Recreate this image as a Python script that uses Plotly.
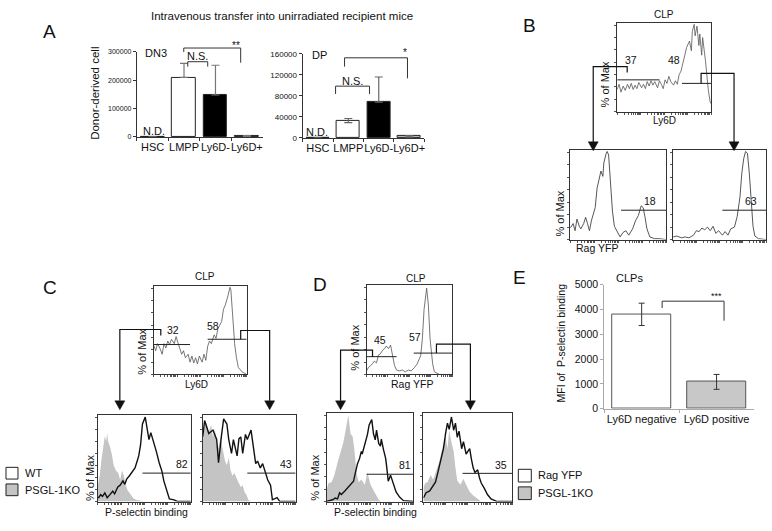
import math
import plotly.graph_objects as go

W, H = 772, 531
def px(x): return x / W
def py(y): return 1 - y / H

FONT = "Liberation Sans, Arial, Helvetica, sans-serif"

# ---------------- Panel A : donor-derived cells ----------------
a_categories = ["HSC", "LMPP", "Ly6D-", "Ly6D+"]
dn3_values = [0, 210000, 148000, 3000]
dn3_err_plus = [0, 50000, 105000, 1500]
dn3_err_minus = [0, 0, 0, 1500]
dn3_ticks = [0, 100000, 200000, 300000]
dp_values = [0, 33000, 68000, 3000]
dp_err_plus = [0, 4000, 48000, 1500]
dp_err_minus = [0, 4000, 0, 1500]
dp_ticks = [0, 40000, 80000, 120000, 160000]
a_bar_colors = ["white", "white", "black", "#c8c8c8"]

# ---------------- Panel E : MFI of P-selectin binding ----------------
e_categories = ["Ly6D negative", "Ly6D positive"]
e_values = [3800, 1080]
e_err = [450, 300]
e_ticks = [0, 1000, 2000, 3000, 4000, 5000]
e_bar_colors = ["white", "#c8c8c8"]

# ---------------- Histograms (x: channel 0-100, y: % of Max) ----------------
b_top_x = [0, 2, 4, 6.4, 8.5, 11, 13, 15, 17, 19, 21, 23, 26, 28, 30, 32, 34, 36, 38, 40, 43, 45, 47, 49, 51, 53, 55, 57, 60, 62, 64, 66, 68, 70, 72, 74, 77, 79, 80, 82, 83, 85, 87, 88, 90, 91, 94, 95, 97, 99, 100]
b_top_y = [25, 31, 22, 29, 24, 31, 26, 32, 25, 30, 26, 33, 27, 31, 26, 34, 29, 35, 30, 34, 27, 35, 31, 26, 36, 32, 40, 34, 30, 35, 31, 42, 46, 55, 64, 73, 80, 69, 91, 99, 86, 97, 75, 88, 64, 84, 58, 44, 25, 11, 9]
b_top_gates = [(0, 45, 36), (69, 100, 32)]
b_top_pct = ["37", "48"]

b_left_x = [0, 3, 5, 7, 9.4, 11, 14, 16, 18, 20, 22, 24, 26, 28, 30, 32, 34, 35, 37.5, 38.5, 40, 42, 44, 46, 49, 52, 55, 58, 61, 65, 68, 71, 74, 76, 78, 80, 83, 88, 93, 100]
b_left_y = [13, 18, 10, 23, 15, 12, 18, 25, 18, 10, 21, 29, 36, 58, 66, 77, 71, 86, 97, 99, 95, 64, 32, 15, 8, 3, 8, 10, 5, 12, 21, 27, 38, 36, 25, 12, 3, 1, 1, 0]
b_left_gate = (53, 100, 33)
b_right_x = [0, 4, 9, 13, 17, 22, 25, 28, 31, 34, 37, 40, 43, 46, 49, 53, 56, 59, 62, 66, 69, 72, 74, 76, 78, 80, 82, 84, 86, 88, 92, 100]
b_right_y = [3, 4, 2, 3, 2, 5, 10, 9, 13, 11, 14, 10, 15, 7, 10, 5, 9, 5, 12, 14, 26, 48, 75, 91, 99, 97, 75, 42, 15, 4, 1, 0]
b_right_gate = (53, 100, 33)
b_bottom_pct = ["18", "63"]

c_top_x = [0, 2, 4, 6.5, 9, 11, 13, 15, 17, 19, 22, 24, 26, 28, 30, 32, 34, 37, 39, 41, 43, 45, 47, 49, 52, 54, 56, 58, 60, 62, 65, 67, 69, 71, 73, 75, 77, 80, 82, 83, 85, 87, 89, 91, 95, 100]
c_top_y = [33, 27, 35, 30, 23, 35, 30, 38, 34, 40, 35, 43, 36, 30, 23, 27, 19, 23, 14, 21, 13, 19, 12, 21, 14, 23, 16, 32, 38, 35, 45, 41, 52, 56, 60, 74, 79, 90, 99, 96, 63, 35, 19, 8, 3, 0]
c_top_gates = [(0, 39, 34), (58, 100, 40)]
c_top_pct = ["32", "58"]

c_left_ko_x = [0, 2, 4, 6.5, 7.5, 9, 10, 11, 13, 15, 17, 19.4, 22, 24, 26, 28, 30, 32, 34, 38, 41, 45, 50, 100]
c_left_ko_y = [19, 30, 50, 68, 76, 70, 80, 70, 64, 55, 42, 36, 33, 25, 36, 30, 19, 13, 10, 4, 2, 1, 0, 0]
c_left_wt_x = [0, 1, 3, 5, 7.5, 10, 13, 16, 18, 21.5, 24, 27, 29, 31, 34, 37, 40, 42, 44, 46, 48, 51, 53, 55, 57, 59, 61, 63, 66, 69, 71, 74, 77, 82, 86, 100]
c_left_wt_y = [5, 4.5, 8, 6, 10, 4.5, 8, 12, 9, 17, 19, 24, 20, 26, 30, 35, 39, 46, 53, 66, 90, 98, 87, 72, 80, 73, 64, 58, 45, 35, 24, 12, 3, 2, 0, 0]
c_left_gate = (48, 100, 33)
c_right_ko_x = [0, 2, 4, 6.5, 9, 11, 13, 15, 17, 19, 22, 24, 26, 28, 30, 32, 34, 37, 39, 41, 43, 45, 47, 49, 52, 100]
c_right_ko_y = [70, 87, 92, 81, 89, 75, 84, 70, 62, 75, 58, 47, 42, 51, 36, 30, 33, 25, 21, 17, 19, 11, 8, 2, 0, 0]
c_right_wt_x = [0, 2, 6.5, 11, 15, 17, 20, 22.5, 26, 28, 31, 33, 37, 39, 41, 43, 46, 48, 52, 54, 57, 59, 62, 64.5, 68, 70, 73, 75, 80, 83, 100]
c_right_wt_y = [75, 94, 79, 83, 72, 45, 75, 96, 90, 72, 56, 72, 53, 73, 75, 56, 78, 72, 83, 66, 44, 47, 39, 44, 30, 25, 19, 2, 4.5, 0, 0]
c_right_gate = (48, 100, 33)
c_bottom_pct = ["82", "43"]

d_top_x = [0, 2.3, 4.7, 7, 9, 11.6, 14, 16, 18.6, 21, 23, 25.6, 28, 30, 32.6, 35, 38, 42, 45, 49, 52, 56, 59, 63, 65, 67, 70, 72, 74, 77, 79, 85, 100]
d_top_y = [4, 8, 10, 12, 15, 13, 22, 23, 27, 29, 32, 29, 33, 21, 10, 5, 4, 5, 3, 5, 4, 8, 12, 21, 40, 73, 97, 78, 40, 12, 3, 0, 0]
d_top_gates = [(0, 35, 20), (55, 100, 24)]
d_top_pct = ["45", "57"]

d_left_ko_x = [0, 2.3, 5.7, 9, 12.6, 15, 17, 19.5, 21, 23, 25, 27.6, 30, 32, 34.5, 37, 40, 44, 47, 50.6, 53, 56, 60, 63, 100]
d_left_ko_y = [13, 21, 22, 30, 44, 52, 59, 68, 76, 88, 98, 77, 74, 59, 32, 22, 25, 19, 33, 19, 14, 9, 2, 0, 0]
d_left_rag_x = [0, 7, 10, 12.6, 15, 17, 21, 24, 27.6, 31, 33, 35.6, 38, 40, 41, 45, 47, 49, 52, 54, 56, 57.5, 60, 62, 63, 65.5, 68, 69, 71, 73.6, 77, 80, 84, 88.5, 100]
d_left_rag_y = [0, 2, 4, 3, 10, 8, 12, 15, 19, 23, 32, 43, 49, 57, 54, 67, 76, 87, 93, 77, 70, 81, 66, 63, 71, 59, 49, 41, 23, 30, 19, 11, 5, 1, 0]
d_left_gate = (46, 100, 31)
d_right_ko_x = [0, 2, 4.5, 8, 11, 14.6, 18, 20, 22.5, 25, 27, 29, 31.5, 34, 36, 38, 41.6, 45, 48, 52, 56, 61, 65, 100]
d_right_ko_y = [16, 21, 22, 30, 25, 35, 46, 55, 66, 74, 60, 81, 67, 57, 38, 24, 19, 26, 19, 11, 7, 3, 0, 0]
d_right_rag_x = [0, 3, 7, 10, 13.5, 16, 19, 22.5, 25, 27, 29, 31.5, 34, 36, 38, 40, 43, 45, 48, 52, 54, 56, 58, 61, 63, 65, 68.5, 72, 76, 83, 100]
d_right_rag_y = [4, 10, 12, 16, 22, 32, 44, 60, 78, 89, 82, 96, 81, 89, 73, 80, 60, 68, 54, 60, 48, 38, 33, 36, 27, 21, 15, 8, 3, 0, 0]
d_right_gate = (44, 100, 32)
d_bottom_pct = ["81", "35"]

# ---------------------------------------------------------------------------
fig = go.Figure()
layout = dict(width=W, height=H, margin=dict(l=0, r=0, t=0, b=0),
              paper_bgcolor="white", plot_bgcolor="white", showlegend=False,
              font=dict(family=FONT, color="#111"), bargap=0)
shapes, annotations = [], []

def ann(text, x, y, size, xanchor="center", yanchor="middle", angle=0):
    annotations.append(dict(text=text, x=px(x), y=py(y), xref="paper", yref="paper",
                            showarrow=False, xanchor=xanchor, yanchor=yanchor,
                            textangle=angle, font=dict(size=size, family=FONT, color="#111")))

log_ticks = [d * 25 + 25 * math.log10(k) for d in range(4) for k in range(1, 10)] + [100]

def hist_axes(n, x0, x1, y0, y1):
    layout[f"xaxis{n}"] = dict(domain=[px(x0), px(x1)], range=[0, 100], anchor=f"y{n}",
                               showline=True, mirror=True, linecolor="#333", linewidth=1,
                               ticks="outside", ticklen=2, tickwidth=0.6, tickcolor="#555",
                               tickvals=log_ticks, showticklabels=False, showgrid=False, zeroline=False,
                               fixedrange=True)
    layout[f"yaxis{n}"] = dict(domain=[py(y1), py(y0)], range=[0, 101], anchor=f"x{n}",
                               showline=True, mirror=True, linecolor="#333", linewidth=1,
                               ticks="outside", ticklen=2, tickwidth=0.6, tickcolor="#555",
                               tickvals=[0, 14, 28, 42, 56, 70, 84, 98], showticklabels=False,
                               showgrid=False, zeroline=False, fixedrange=True)

def line_trace(n, xs, ys, color, width):
    fig.add_trace(go.Scatter(x=xs, y=ys, mode="lines", line=dict(color=color, width=width),
                             xaxis=f"x{n}", yaxis=f"y{n}", hoverinfo="skip"))

def fill_trace(n, xs, ys):
    fig.add_trace(go.Scatter(x=xs, y=ys, mode="lines", line=dict(color="#c4c4c4", width=0),
                             fill="tozeroy", fillcolor="#c4c4c4",
                             xaxis=f"x{n}", yaxis=f"y{n}", hoverinfo="skip"))

def gate(n, g):
    shapes.append(dict(type="line", xref=f"x{n}", yref=f"y{n}", x0=g[0], x1=g[1], y0=g[2], y1=g[2],
                       line=dict(color="#222", width=1)))

def connector(points, tip_y):
    path = "M " + " L ".join(f"{px(x)},{py(y)}" for x, y in points)
    shapes.append(dict(type="path", xref="paper", yref="paper", path=path,
                       line=dict(color="#111", width=1.2)))
    x = points[-1][0]
    tri = f"M {px(x-5)},{py(tip_y-9)} L {px(x+5)},{py(tip_y-9)} L {px(x)},{py(tip_y)} Z"
    shapes.append(dict(type="path", xref="paper", yref="paper", path=tri,
                       fillcolor="#111", line=dict(color="#111", width=0.5)))

# ---------------- Panel A bars ----------------
def bar_axes(n, x0, x1, y0, y1, yr, ticks, tsize, lcolor, csize):
    layout[f"xaxis{n}" if n > 1 else "xaxis"] = dict(
        domain=[px(x0), px(x1)], anchor="y" if n == 1 else f"y{n}", type="category",
        showline=True, linecolor=lcolor, linewidth=1, ticks="outside", tickson="boundaries",
        ticklen=3, tickcolor=lcolor, tickangle=0,
        tickfont=dict(size=csize, family=FONT, color="#111"),
        showgrid=False, zeroline=False, fixedrange=True)
    layout[f"yaxis{n}" if n > 1 else "yaxis"] = dict(
        domain=[py(y1), py(y0)], anchor="x" if n == 1 else f"x{n}", range=yr,
        tickvals=ticks, ticktext=[str(t) for t in ticks], showline=True, linecolor=lcolor,
        linewidth=1, ticks="outside", ticklen=3, tickcolor=lcolor,
        tickfont=dict(size=tsize, family=FONT, color="#111"),
        showgrid=False, zeroline=False, fixedrange=True)

bar_axes(1, 137, 263, 47, 134, [0, 300000], dn3_ticks, 7, "#333", 11)
bar_axes(2, 303, 425, 49, 135, [0, 160000], dp_ticks, 8, "#333", 11)

fig.add_trace(go.Bar(x=a_categories, y=dn3_values, width=0.75, xaxis="x", yaxis="y",
                     marker=dict(color=a_bar_colors, line=dict(color="#222", width=1)),
                     error_y=dict(type="data", symmetric=False, array=dn3_err_plus,
                                  arrayminus=dn3_err_minus, color="#777", thickness=1.2, width=4),
                     hoverinfo="skip"))
fig.add_trace(go.Bar(x=a_categories, y=dp_values, width=0.75, xaxis="x2", yaxis="y2",
                     marker=dict(color=a_bar_colors, line=dict(color="#222", width=1)),
                     error_y=dict(type="data", symmetric=False, array=dp_err_plus,
                                  arrayminus=dp_err_minus, color="#666", thickness=1.2, width=4),
                     hoverinfo="skip"))

ann("Intravenous transfer into unirradiated recipient mice", 282, 10, 11.5)
ann("A", 50, 26, 19)
ann("Donor-derived cell", 95, 89, 11.5, angle=-90)
ann("DN3", 143, 48, 11, xanchor="left")
ann("N.S.", 198, 51, 11)
ann("**", 236, 40, 10)
ann("N.D.", 154, 128, 11)
ann("DP", 310, 50, 11, xanchor="left")
ann("N.S.", 353, 77, 11)
ann("*", 406, 48, 10)
ann("N.D.", 317, 129, 11)
for pts in ([(184, 47), (184, 43), (241, 43), (241, 58)],
            [(188, 62), (188, 57), (208, 57), (208, 62)],
            [(345, 62), (345, 53), (408, 53), (408, 74)],
            [(336, 90), (336, 82), (370, 82), (370, 90)],
            [(663, 309), (663, 302), (725, 302), (725, 322)]):
    shapes.append(dict(type="path", xref="paper", yref="paper",
                       path="M " + " L ".join(f"{px(x)},{py(y)}" for x, y in pts),
                       line=dict(color="#333", width=1)))

# ---------------- Panel B ----------------
hist_axes(3, 618, 712, 17, 108)
line_trace(3, b_top_x, b_top_y, "#555", 0.8)
for g in b_top_gates:
    gate(3, g)
hist_axes(4, 571, 667, 147, 239)
line_trace(4, b_left_x, b_left_y, "#444", 0.9)
gate(4, b_left_gate)
hist_axes(5, 674, 767, 147, 239)
line_trace(5, b_right_x, b_right_y, "#444", 0.9)
gate(5, b_right_gate)
ann("B", 530, 20, 19)
ann("CLP", 665, 9, 10)
ann(b_top_pct[0], 632, 55, 10.5)
ann(b_top_pct[1], 675, 55, 10.5)
ann("Ly6D", 665, 117, 10)
ann("% of Max", 606, 80, 11, angle=-90)
ann("% of Max", 561, 212, 11, angle=-90)
ann("Rag YFP", 598, 248, 10.5)
ann(b_bottom_pct[0], 651, 200, 10.5)
ann(b_bottom_pct[1], 752, 200, 10.5)
connector([(628, 68), (628, 62), (594, 62), (594, 140)], 148)
connector([(702, 79), (702, 69), (735, 69), (735, 140)], 148)

# ---------------- Panel C ----------------
hist_axes(6, 154, 247, 286, 377)
line_trace(6, c_top_x, c_top_y, "#555", 0.8)
for g in c_top_gates:
    gate(6, g)
hist_axes(7, 98, 191, 418, 507)
fill_trace(7, c_left_ko_x, c_left_ko_y)
line_trace(7, c_left_wt_x, c_left_wt_y, "#111", 1.4)
gate(7, c_left_gate)
hist_axes(8, 203, 296, 418, 507)
fill_trace(8, c_right_ko_x, c_right_ko_y)
line_trace(8, c_right_wt_x, c_right_wt_y, "#111", 1.4)
gate(8, c_right_gate)
ann("C", 50, 288, 19)
ann("CLP", 205, 277, 10)
ann(c_top_pct[0], 173, 331, 10.5)
ann(c_top_pct[1], 213, 327, 10.5)
ann("Ly6D", 197, 387, 10)
ann("% of Max", 142, 354, 11, angle=-90)
ann("% of Max", 90, 483, 11, angle=-90)
ann("P-selectin binding", 147, 518, 10.5)
ann(c_bottom_pct[0], 182, 469, 10.5)
ann(c_bottom_pct[1], 286, 469, 10.5)
connector([(161, 337), (161, 331), (120, 331), (120, 404)], 413)
connector([(241, 341), (241, 332), (270, 332), (270, 404)], 413)
shapes.append(dict(type="rect", xref="paper", yref="paper", x0=px(6), x1=px(18), y0=py(484), y1=py(472),
                   fillcolor="white", line=dict(color="#222", width=1)))
shapes.append(dict(type="rect", xref="paper", yref="paper", x0=px(6), x1=px(18), y0=py(501), y1=py(489),
                   fillcolor="#c4c4c4", line=dict(color="#222", width=1)))
ann("WT", 23, 478, 11, xanchor="left")
ann("PSGL-1KO", 23, 495, 11, xanchor="left")

# ---------------- Panel D ----------------
hist_axes(9, 367, 453, 285, 377)
line_trace(9, d_top_x, d_top_y, "#555", 0.8)
for g in d_top_gates:
    gate(9, g)
hist_axes(10, 327, 414, 416, 507)
fill_trace(10, d_left_ko_x, d_left_ko_y)
line_trace(10, d_left_rag_x, d_left_rag_y, "#111", 1.4)
gate(10, d_left_gate)
hist_axes(11, 424, 513, 416, 507)
fill_trace(11, d_right_ko_x, d_right_ko_y)
line_trace(11, d_right_rag_x, d_right_rag_y, "#111", 1.4)
gate(11, d_right_gate)
ann("D", 320, 285, 19)
ann("CLP", 417, 279, 10)
ann(d_top_pct[0], 380, 342, 10.5)
ann(d_top_pct[1], 416, 339, 10.5)
ann("Rag YFP", 413, 387, 10.5)
ann("% of Max", 356, 350, 11, angle=-90)
ann("% of Max", 315, 483, 11, angle=-90)
ann("P-selectin binding", 376, 518, 10.5)
ann(d_bottom_pct[0], 406, 470, 10.5)
ann(d_bottom_pct[1], 502, 470, 10.5)
connector([(373, 359), (373, 352), (341, 352), (341, 404)], 413)
connector([(437, 355), (437, 346), (471, 346), (471, 404)], 413)
shapes.append(dict(type="rect", xref="paper", yref="paper", x0=px(519), x1=px(532), y0=py(487), y1=py(474),
                   fillcolor="white", line=dict(color="#222", width=1)))
shapes.append(dict(type="rect", xref="paper", yref="paper", x0=px(519), x1=px(532), y0=py(505), y1=py(492),
                   fillcolor="#c4c4c4", line=dict(color="#222", width=1)))
ann("Rag YFP", 537, 480, 11, xanchor="left")
ann("PSGL-1KO", 537, 498, 11, xanchor="left")

# ---------------- Panel E ----------------
bar_axes(12, 605, 755, 285, 412, [0, 5000], e_ticks, 10.5, "#aaa", 11)
fig.add_trace(go.Bar(x=e_categories, y=e_values, width=0.78, xaxis="x12", yaxis="y12",
                     marker=dict(color=e_bar_colors, line=dict(color="#555", width=1)),
                     error_y=dict(type="data", array=e_err, color="#333", thickness=1, width=3),
                     hoverinfo="skip"))
ann("E", 520, 278, 19)
ann("CLPs", 630, 278, 11)
ann("***", 717, 297, 9)
ann("MFI of  P-selectin binding", 562, 345, 10.5, angle=-90)

layout["shapes"] = shapes
layout["annotations"] = annotations
fig.update_layout(**layout)
fig.write_html("out.html", config={"displayModeBar": False},
               post_script="document.body.style.margin='0px';document.body.style.padding='0px';")
